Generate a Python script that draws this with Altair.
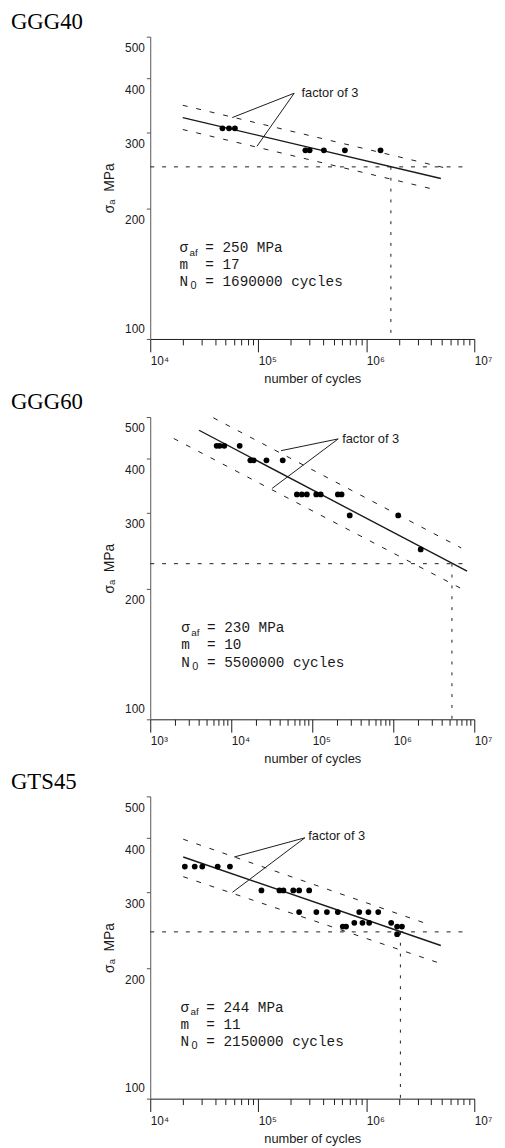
import math
import altair as alt
import pandas as pd

NB = "\u00a0"

# ---------------- values ----------------
# GGG40
g40_N = [46600, 53600, 60800, 273000, 299000, 405000, 634000, 1355000]
g40_S = [307, 307, 307, 273, 273, 273, 273, 273]
g40_fit_N = [20000, 4900000]
g40_fit_S = [325, 235]
g40_up_N = [20000, 6000000]
g40_up_S = [347, 247]
g40_lo_N = [20000, 4500000]
g40_lo_S = [305, 221]
g40_saf = 250
g40_N0 = 1690000
g40_h_end = 8100000
g40_decades = [10000, 100000, 1000000, 10000000]
g40_sym = ["σ", "m", "N"]
g40_val = ["= 250 MPa", "= 17", "= 1690000 cycles"]
g40_info_at = [18700, 159]
g40_fac_at = [251000, 370]
g40_lead_from = [215000, 370]
g40_lead_to_N = [57400, 97300]
g40_lead_to_S = [325, 279]

# GGG60
g60_N = [6600, 7200, 8200, 12700, 17200, 18900, 27200, 43200,
         64600, 74400, 85700, 112000, 127000, 207000, 230000,
         290000, 1150000, 2180000]
g60_S = [429, 429, 429, 429, 397, 397, 397, 397,
         331, 331, 331, 331, 331, 331, 331,
         296, 296, 247]
g60_fit_N = [4000, 8150000]
g60_fit_S = [466, 220]
g60_up_N = [6000, 6900000]
g60_up_S = [498, 249]
g60_lo_N = [1950, 8300000]
g60_lo_S = [446, 197]
g60_saf = 229
g60_N0 = 5300000
g60_h_end = 7500000
g60_decades = [1000, 10000, 100000, 1000000, 10000000]
g60_sym = ["σ", "m", "N"]
g60_val = ["= 230 MPa", "= 10", "= 5500000 cycles"]
g60_info_at = [2420, 159]
g60_fac_at = [234000, 444]
g60_lead_from = [209000, 445]
g60_lead_to_N = [41200, 32000]
g60_lead_to_S = [418, 342]

# GTS45
g45_N = [20900, 25800, 30300, 42100, 54700,
         107000, 157000, 171000, 211000, 239000, 296000,
         239000, 345000, 432000, 545000, 861000, 1047000, 1290000,
         775000, 922000, 1064000, 1700000,
         606000, 650000, 1930000, 2140000,
         1930000]
g45_S = [344, 344, 344, 344, 344,
         303, 303, 303, 303, 303, 303,
         270, 270, 270, 270, 270, 270, 270,
         255, 255, 255, 255,
         250, 250, 250, 250,
         240]
g45_fit_N = [20200, 4900000]
g45_fit_S = [362, 226]
g45_up_N = [20200, 3760000]
g45_up_S = [398, 253]
g45_lo_N = [20200, 4980000]
g45_lo_S = [326, 205]
g45_saf = 243
g45_N0 = 2070000
g45_h_end = 7850000
g45_decades = [10000, 100000, 1000000, 10000000]
g45_sym = ["σ", "m", "N"]
g45_val = ["= 244 MPa", "= 11", "= 2150000 cycles"]
g45_info_at = [19100, 159]
g45_fac_at = [290000, 405]
g45_lead_from = [270000, 401]
g45_lead_to_N = [59800, 57700]
g45_lead_to_S = [362, 300]

y_ticks = [100, 200, 300, 400, 500]
y_domain = [100, 500]

SUP = {3: "³", 4: "⁴", 5: "⁵", 6: "⁶", 7: "⁷"}
INK = "#1a1a1a"


def x_axis(decades):
    vals = []
    for d in decades[:-1]:
        for k in range(1, 10):
            vals.append(d * k)
    vals.append(decades[-1])
    expr = "''"
    for d in decades:
        e = int(round(math.log10(d)))
        expr = f"datum.value == {d} ? '10{SUP[e]}' : " + expr
    major = "indexof([" + ",".join(str(d) for d in decades) + "], datum.value) >= 0"
    return alt.Axis(
        values=vals,
        labelExpr=expr,
        tickSize={"condition": {"test": major, "value": 13}, "value": 6},
        labelAlign="left",
        labelBaseline="top",
        labelPadding=4,
        labelFlush=False,
        labelOverlap=False,
        labelFont="Liberation Sans",
        labelFontSize=12,
        labelColor=INK,
        title="number of cycles",
        titleFont="Liberation Sans",
        titleFontSize=13,
        titleFontWeight="normal",
        titleColor=INK,
        titlePadding=6,
        domainColor=INK,
        tickColor=INK,
        grid=False,
    )


y_axis = alt.Axis(
    values=y_ticks,
    tickSize=4,
    labelOffset={"condition": {"test": "datum.value == 100", "value": -11}, "value": 11},
    labelPadding=2,
    labelFont="Liberation Sans",
    labelFontSize=12,
    labelColor=INK,
    title=f"σₐ{NB}{NB}MPa",
    titleFont="Liberation Sans",
    titleFontSize=14,
    titleFontWeight="normal",
    titleColor=INK,
    titlePadding=8,
    domainColor="#555555",
    tickColor="#555555",
    grid=False,
)


def panel(name, pN, pS, fN, fS, uN, uS, lN, lS, saf, n0, h_end, decades,
          sym, val, info_at, fac_at, lead_from, lead_to_N, lead_to_S):
    xs = alt.Scale(type="log", domain=[decades[0], decades[-1]], nice=False)
    ys = alt.Scale(type="log", domain=y_domain, nice=False)
    xa = x_axis(decades)

    def X(f):
        return alt.X(f, type="quantitative", scale=xs, axis=xa)

    def Y(f):
        return alt.Y(f, type="quantitative", scale=ys, axis=y_axis)

    vals = [s.replace(" ", NB) for s in val]

    pts = pd.DataFrame({"N": pN, "S": pS})
    fit = pd.DataFrame({"N": fN, "S": fS})
    band = pd.DataFrame({"N": uN + lN, "S": uS + lS,
                         "b": ["up"] * len(uN) + ["lo"] * len(lN)})
    hline = pd.DataFrame({"N": [decades[0]], "N2": [h_end], "S": [saf]})
    vline = pd.DataFrame({"N": [n0], "S": [saf], "S2": [y_domain[0]]})
    lead = pd.DataFrame({"N": [lead_from[0]] * 2, "S": [lead_from[1]] * 2,
                         "N2": lead_to_N, "S2": lead_to_S})
    fac = pd.DataFrame({"N": [fac_at[0]], "S": [fac_at[1]]})
    blk = pd.DataFrame({"N": [info_at[0]], "S": [info_at[1]]})

    mono = dict(align="left", baseline="alphabetic", lineHeight=17.5,
                font="Liberation Mono", fontSize=14.5, color=INK)

    layers = [
        alt.Chart(hline).mark_rule(color=INK, strokeWidth=1, strokeDash=[4, 8])
        .encode(x=X("N"), x2="N2", y=Y("S")),
        alt.Chart(vline).mark_rule(color=INK, strokeWidth=1, strokeDash=[3, 8])
        .encode(x=X("N"), y=Y("S"), y2="S2"),
        alt.Chart(band).mark_line(color=INK, strokeWidth=1, strokeDash=[5, 9])
        .encode(x=X("N"), y=Y("S"), detail="b:N"),
        alt.Chart(fit).mark_line(color=INK, strokeWidth=1.4)
        .encode(x=X("N"), y=Y("S")),
        alt.Chart(pts).mark_circle(color="black", size=34, opacity=1)
        .encode(x=X("N"), y=Y("S")),
        alt.Chart(lead).mark_rule(color=INK, strokeWidth=1)
        .encode(x=X("N"), y=Y("S"), x2="N2", y2="S2"),
        alt.Chart(fac).mark_text(text="factor of 3", align="left", baseline="middle",
                                 font="Liberation Sans", fontSize=13, color=INK)
        .encode(x=X("N"), y=Y("S")),
        alt.Chart(blk).mark_text(**mono)
        .encode(x=X("N"), y=Y("S"), text=alt.value(sym)),
        alt.Chart(blk).mark_text(dx=26, **mono)
        .encode(x=X("N"), y=Y("S"), text=alt.value(vals)),
        alt.Chart(blk).mark_text(text="af", align="left", baseline="alphabetic",
                                 dx=10, dy=4, font="Liberation Sans", fontSize=10,
                                 color=INK)
        .encode(x=X("N"), y=Y("S")),
        alt.Chart(blk).mark_text(text="0", align="left", baseline="alphabetic",
                                 dx=11, dy=38, font="Liberation Sans", fontSize=11,
                                 color=INK)
        .encode(x=X("N"), y=Y("S")),
    ]
    return alt.layer(*layers).properties(
        width=328, height=306,
        title=alt.TitleParams(name, anchor="start", frame="group", dx=-141, offset=-16,
                              baseline="alphabetic", font="Liberation Serif",
                              fontSize=23, fontWeight="normal", color="black"),
    )


p1 = panel("GGG40", g40_N, g40_S, g40_fit_N, g40_fit_S, g40_up_N, g40_up_S,
           g40_lo_N, g40_lo_S, g40_saf, g40_N0, g40_h_end, g40_decades,
           g40_sym, g40_val, g40_info_at, g40_fac_at, g40_lead_from,
           g40_lead_to_N, g40_lead_to_S)
p2 = panel("GGG60", g60_N, g60_S, g60_fit_N, g60_fit_S, g60_up_N, g60_up_S,
           g60_lo_N, g60_lo_S, g60_saf, g60_N0, g60_h_end, g60_decades,
           g60_sym, g60_val, g60_info_at, g60_fac_at, g60_lead_from,
           g60_lead_to_N, g60_lead_to_S)
p3 = panel("GTS45", g45_N, g45_S, g45_fit_N, g45_fit_S, g45_up_N, g45_up_S,
           g45_lo_N, g45_lo_S, g45_saf, g45_N0, g45_h_end, g45_decades,
           g45_sym, g45_val, g45_info_at, g45_fac_at, g45_lead_from,
           g45_lead_to_N, g45_lead_to_S)

chart = (
    alt.vconcat(p1, p2, p3, spacing=5)
    .properties(padding={"left": 3, "top": -4, "right": 5, "bottom": 2}, background="white")
    .configure_view(stroke=None)
)

chart.save("out.html", embed_options={"renderer": "svg", "actions": False})
